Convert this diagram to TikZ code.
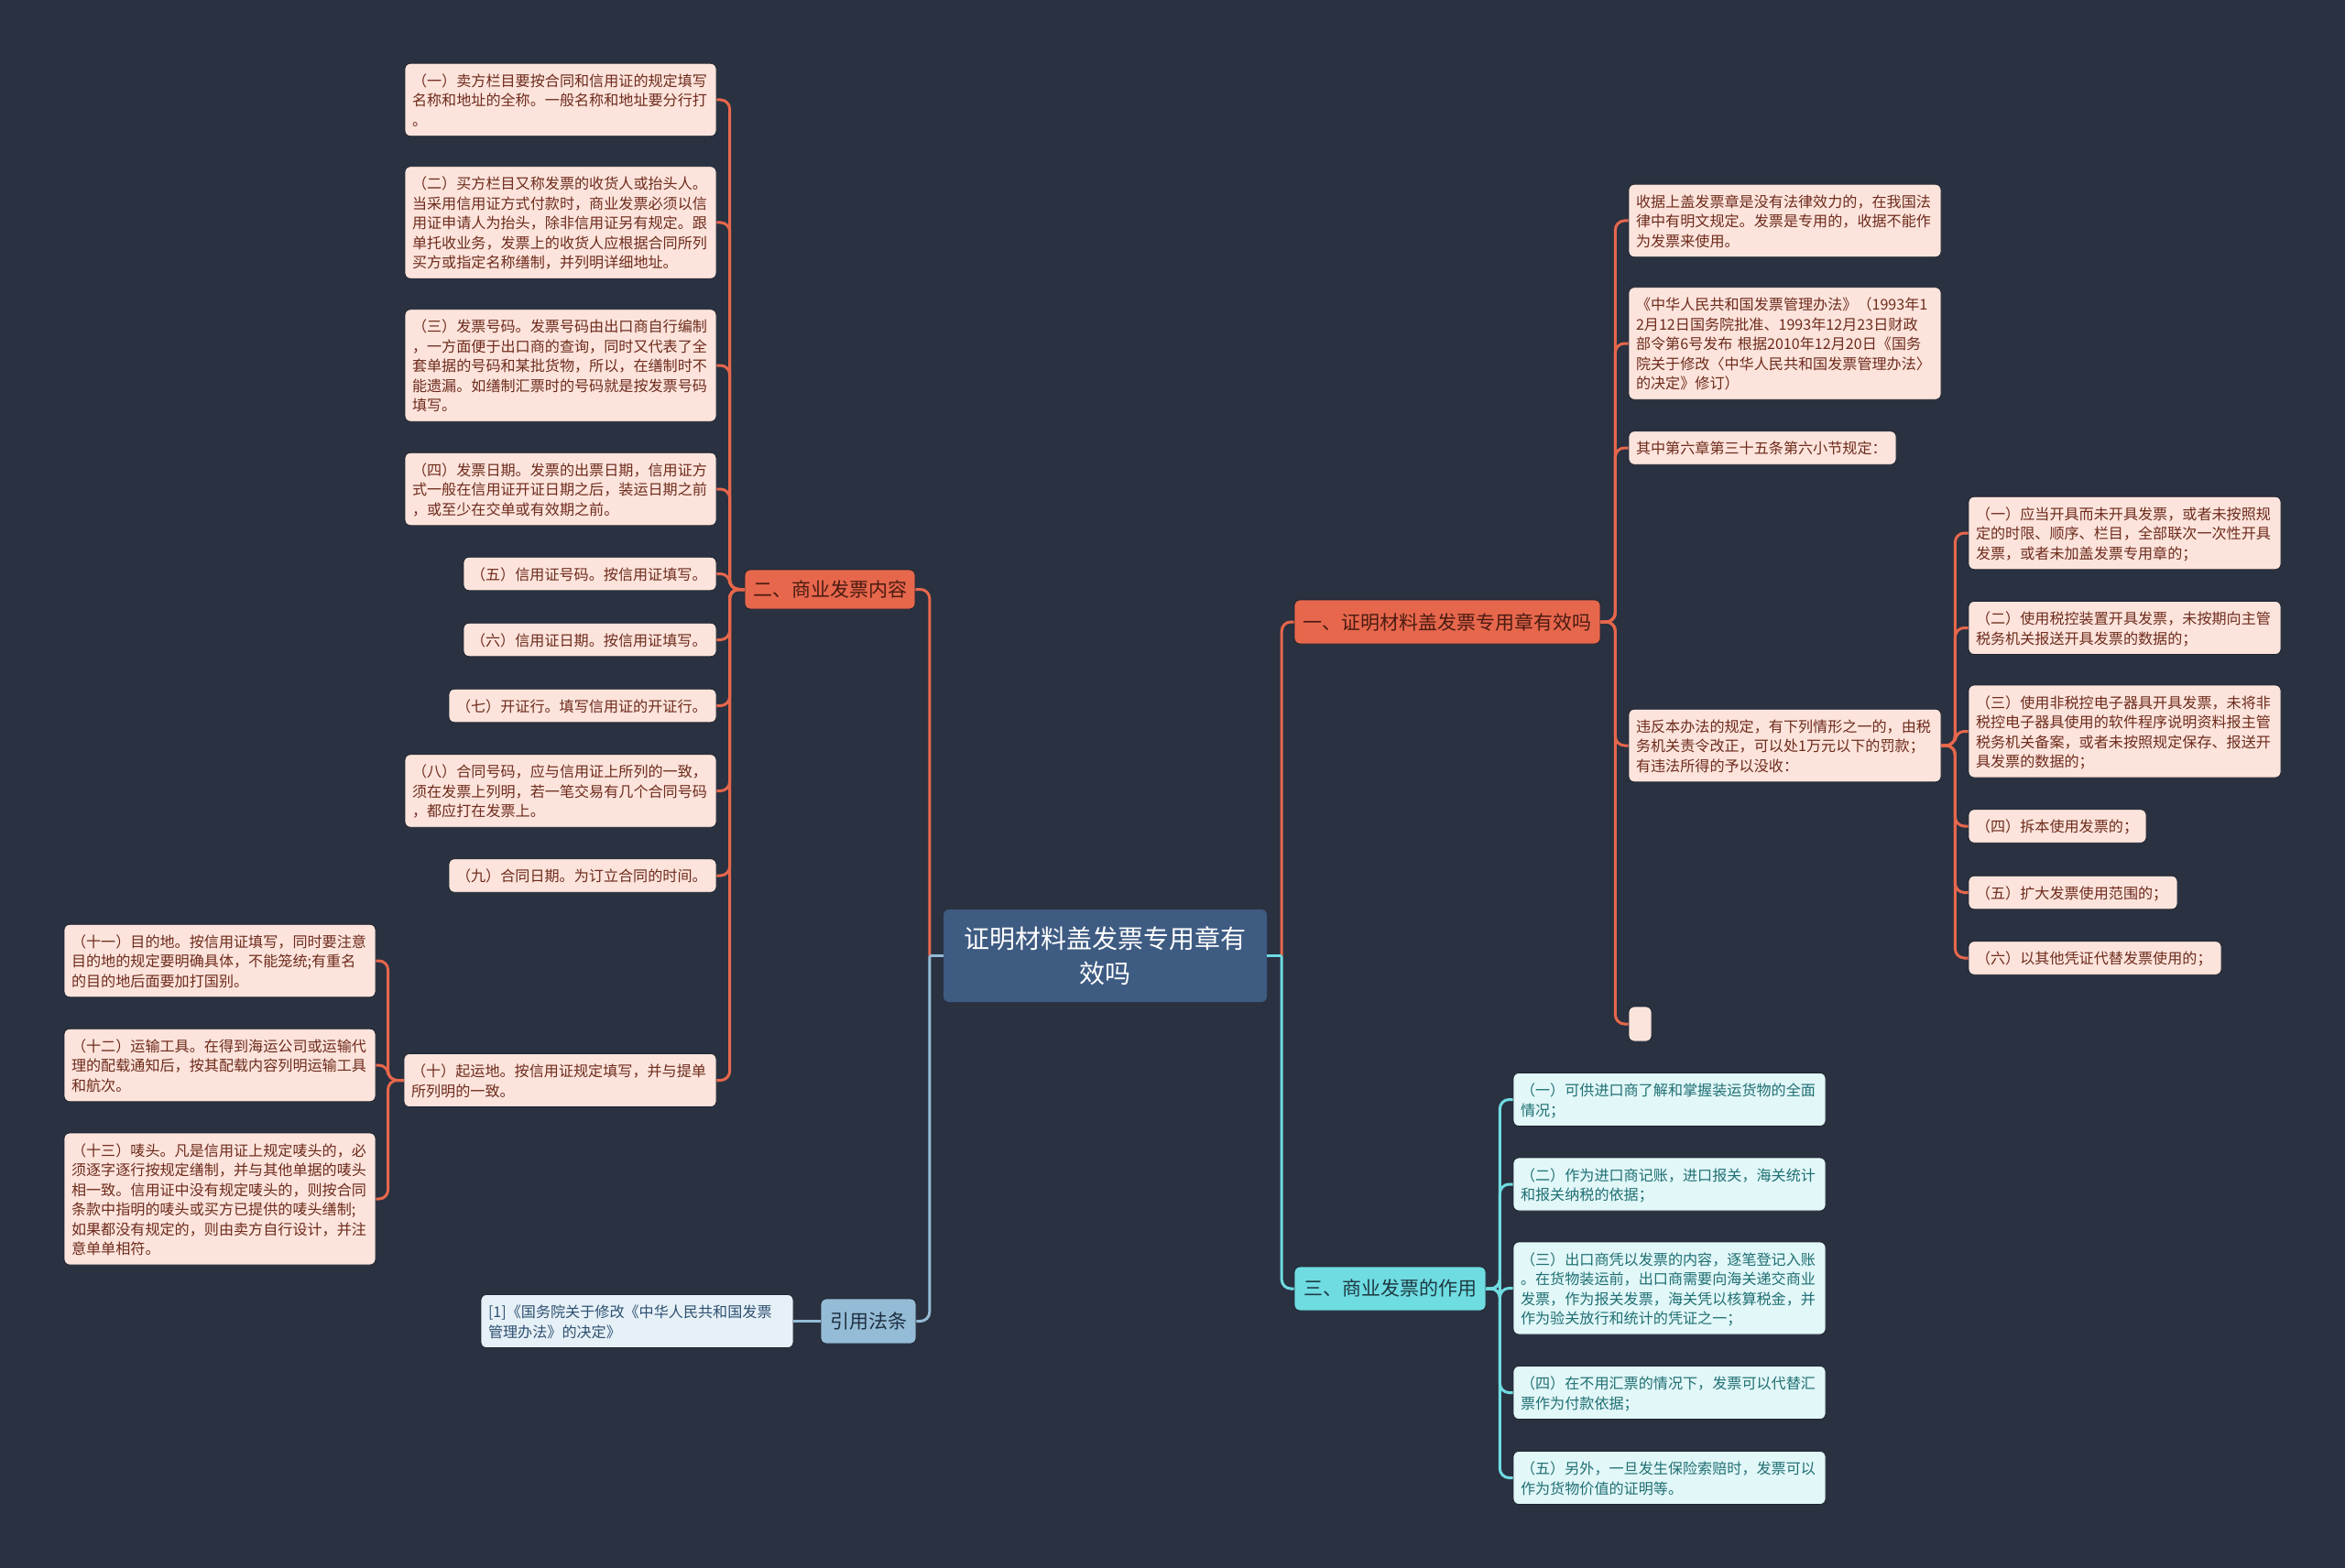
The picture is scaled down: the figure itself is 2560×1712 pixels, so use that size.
\documentclass[tikz,border=0pt]{standalone}
\usepackage{fontspec}
\setmainfont{Noto Sans CJK SC}
\definecolor{bg}{HTML}{2A3140}
\definecolor{centerfill}{HTML}{3E5B82}
\definecolor{coral}{HTML}{E7674C}
\definecolor{coraltext}{HTML}{4A1B12}
\definecolor{pinkfill}{HTML}{FCE4DC}
\definecolor{pinktext}{HTML}{6E2B1C}
\definecolor{cyanfill}{HTML}{6FDCE2}
\definecolor{cyantext}{HTML}{1E3A42}
\definecolor{cyanleaf}{HTML}{E2F7F8}
\definecolor{cyanleaftext}{HTML}{1F6F73}
\definecolor{bluefill}{HTML}{95BCD6}
\definecolor{bluetext}{HTML}{1E2F40}
\definecolor{blueleaf}{HTML}{E6F0F7}
\definecolor{blueleaftext}{HTML}{2D5070}
\definecolor{edge}{HTML}{1C222E}
\newcommand{\topstrut}{\rule{0pt}{17.5pt}}
\newcommand{\botstrut}{\rule[-4pt]{0pt}{4pt}}
\tikzset{
  box/.style={rounded corners=6pt, inner xsep=8pt, inner ysep=7.5pt, align=left,
    font=\fontsize{16.1}{21.5}\selectfont, draw=edge, line width=0.8pt,
    execute at begin node=\topstrut, execute at end node=\botstrut},
  leafR/.style={box, fill=pinkfill, text=pinktext},
  leafC/.style={box, fill=cyanleaf, text=cyanleaftext},
  leafB/.style={box, fill=blueleaf, text=blueleaftext},
  branch/.style={rounded corners=6pt, inner sep=0pt, align=center,
    font=\fontsize{21}{24}\selectfont, draw=edge, line width=0.8pt},
  conn/.style={line width=3pt, rounded corners=10pt},
  connO/.style={conn, draw=coral},
  connC/.style={conn, draw=cyanfill},
  connB/.style={conn, draw=bluefill},
}
\begin{document}
\begin{tikzpicture}[x=1pt,y=-1pt]
\useasboundingbox[fill=bg] (0,0) rectangle (2560,1712);

% center
\node[rounded corners=6pt, fill=centerfill, text=white, align=center,
  font=\fontsize{28}{37.5}\selectfont, minimum width=353pt, minimum height=101pt, inner sep=0pt]
  (c) at (1206.5,1043.5) {证明材料盖发票专用章有\\效吗};

% branches
\node[branch, fill=coral, text=coraltext, minimum width=334pt, minimum height=48pt] (b1) at (1580,679) {一、证明材料盖发票专用章有效吗};
\node[branch, fill=coral, text=coraltext, minimum width=186pt, minimum height=43pt] (b2) at (906,643.5) {二、商业发票内容};
\node[branch, fill=cyanfill, text=cyantext, minimum width=209pt, minimum height=48pt] (b3) at (1517.5,1407) {三、商业发票的作用};
\node[branch, fill=bluefill, text=bluetext, minimum width=104pt, minimum height=49pt] (b4) at (948,1442.5) {引用法条};

% branch 2 leaves
\node[leafR, text width=324pt] (l1) at (612,109) {（一）卖方栏目要按合同和信用证的规定填写\\名称和地址的全称。一般名称和地址要分行打\\。};
\node[leafR, text width=324pt] (l2) at (612,243) {（二）买方栏目又称发票的收货人或抬头人。\\当采用信用证方式付款时，商业发票必须以信\\用证申请人为抬头，除非信用证另有规定。跟\\单托收业务，发票上的收货人应根据合同所列\\买方或指定名称缮制，并列明详细地址。};
\node[leafR, text width=324pt] (l3) at (612,399) {（三）发票号码。发票号码由出口商自行编制\\，一方面便于出口商的查询，同时又代表了全\\套单据的号码和某批货物，所以，在缮制时不\\能遗漏。如缮制汇票时的号码就是按发票号码\\填写。};
\node[leafR, text width=324pt] (l4) at (612,534) {（四）发票日期。发票的出票日期，信用证方\\式一般在信用证开证日期之后，装运日期之前\\，或至少在交单或有效期之前。};
\node[leafR, text width=260pt] (l5) at (644,626.5) {（五）信用证号码。按信用证填写。};
\node[leafR, text width=260pt] (l6) at (644,698.5) {（六）信用证日期。按信用证填写。};
\node[leafR, text width=276pt] (l7) at (636,770.5) {（七）开证行。填写信用证的开证行。};
\node[leafR, text width=324pt] (l8) at (612,863.5) {（八）合同号码，应与信用证上所列的一致，\\须在发票上列明，若一笔交易有几个合同号码\\，都应打在发票上。};
\node[leafR, text width=276pt] (l9) at (636,956) {（九）合同日期。为订立合同的时间。};
\node[leafR, text width=325pt] (l10) at (611.5,1179.5) {（十）起运地。按信用证规定填写，并与提单\\所列明的一致。};

\node[leafR, text width=324pt] (l11) at (240,1049) {（十一）目的地。按信用证填写，同时要注意\\目的地的规定要明确具体，不能笼统;有重名\\的目的地后面要加打国别。};
\node[leafR, text width=324pt] (l12) at (240,1163) {（十二）运输工具。在得到海运公司或运输代\\理的配载通知后，按其配载内容列明运输工具\\和航次。};
\node[leafR, text width=324pt] (l13) at (240,1309) {（十三）唛头。凡是信用证上规定唛头的，必\\须逐字逐行按规定缮制，并与其他单据的唛头\\相一致。信用证中没有规定唛头的，则按合同\\条款中指明的唛头或买方已提供的唛头缮制;\\如果都没有规定的，则由卖方自行设计，并注\\意单单相符。};

% branch 4 leaf
\node[leafB, text width=325pt] (r1) at (695.5,1442.5) {[1]《国务院关于修改《中华人民共和国发票\\管理办法》的决定》};

% branch 1 leaves
\node[leafR, text width=325pt] (a1) at (1948.5,241) {收据上盖发票章是没有法律效力的，在我国法\\律中有明文规定。发票是专用的，收据不能作\\为发票来使用。};
\node[leafR, text width=325pt] (a2) at (1948.5,375) {《中华人民共和国发票管理办法》（1993年1\\2月12日国务院批准、1993年12月23日财政\\部令第6号发布 根据2010年12月20日《国务\\院关于修改〈中华人民共和国发票管理办法〉\\的决定》修订）};
\node[leafR, text width=276pt] (a3) at (1924,489) {其中第六章第三十五条第六小节规定：};
\node[leafR, text width=325pt] (a4) at (1948.5,814) {违反本办法的规定，有下列情形之一的，由税\\务机关责令改正，可以处1万元以下的罚款；\\有违法所得的予以没收：};
\node[rounded corners=6pt, fill=pinkfill, draw=edge, line width=0.8pt, minimum width=25pt, minimum height=38pt, inner sep=0pt] (a5) at (1790.5,1118) {};

\node[leafR, text width=325pt] (s1) at (2319.5,582) {（一）应当开具而未开具发票，或者未按照规\\定的时限、顺序、栏目，全部联次一次性开具\\发票，或者未加盖发票专用章的；};
\node[leafR, text width=325pt] (s2) at (2319.5,685.5) {（二）使用税控装置开具发票，未按期向主管\\税务机关报送开具发票的数据的；};
\node[leafR, text width=325pt] (s3) at (2319.5,798.5) {（三）使用非税控电子器具开具发票，未将非\\税控电子器具使用的软件程序说明资料报主管\\税务机关备案，或者未按照规定保存、报送开\\具发票的数据的；};
\node[leafR, text width=178pt] (s4) at (2246,902) {（四）拆本使用发票的；};
\node[leafR, text width=212pt] (s5) at (2263,974.5) {（五）扩大发票使用范围的；};
\node[leafR, text width=260pt] (s6) at (2287,1046) {（六）以其他凭证代替发票使用的；};

% branch 3 leaves
\node[leafC, text width=325pt] (t1) at (1822.5,1200.5) {（一）可供进口商了解和掌握装运货物的全面\\情况；};
\node[leafC, text width=325pt] (t2) at (1822.5,1293) {（二）作为进口商记账，进口报关，海关统计\\和报关纳税的依据；};
\node[leafC, text width=325pt] (t3) at (1822.5,1406.5) {（三）出口商凭以发票的内容，逐笔登记入账\\。在货物装运前，出口商需要向海关递交商业\\发票，作为报关发票，海关凭以核算税金，并\\作为验关放行和统计的凭证之一；};
\node[leafC, text width=325pt] (t4) at (1822.5,1520.5) {（四）在不用汇票的情况下，发票可以代替汇\\票作为付款依据；};
\node[leafC, text width=325pt] (t5) at (1822.5,1613.5) {（五）另外，一旦发生保险索赔时，发票可以\\作为货物价值的证明等。};

% connectors from the center (sharp junction at the trunk)
\coordinate (cl) at ([xshift=-15pt]c.west);
\coordinate (cr) at ([xshift=16pt]c.east);
\draw[connO] (cl) |- (b2.east);
\draw[connB] (cl) |- (b4.east);
\draw[connO] (cr) |- (b1.west);
\draw[connC] (cr) |- (b3.west);
\draw[line width=3pt, draw=bluefill] (c.west) -- (cl);
\draw[line width=3pt, draw=cyanfill] (c.east) -- (cr);

\foreach \n in {l1,l2,l3,l4,l5,l6,l7,l8,l9,l10}
  \draw[connO] (b2.west) -- ([xshift=-16pt]b2.west) |- (\n.east);
\foreach \n in {l11,l12,l13}
  \draw[connO] (l10.west) -- ([xshift=-17pt]l10.west) |- (\n.east);
\draw[connB] (b4.west) -- (r1.east);
\foreach \n in {a1,a2,a3,a4,a5}
  \draw[connO] (b1.east) -- ([xshift=16pt]b1.east) |- (\n.west);
\foreach \n in {s1,s2,s3,s4,s5,s6}
  \draw[connO] (a4.east) -- ([xshift=15pt]a4.east) |- (\n.west);
\foreach \n in {t1,t2,t3,t4,t5}
  \draw[connC] (b3.east) -- ([xshift=15pt]b3.east) |- (\n.west);
\end{tikzpicture}
\end{document}
